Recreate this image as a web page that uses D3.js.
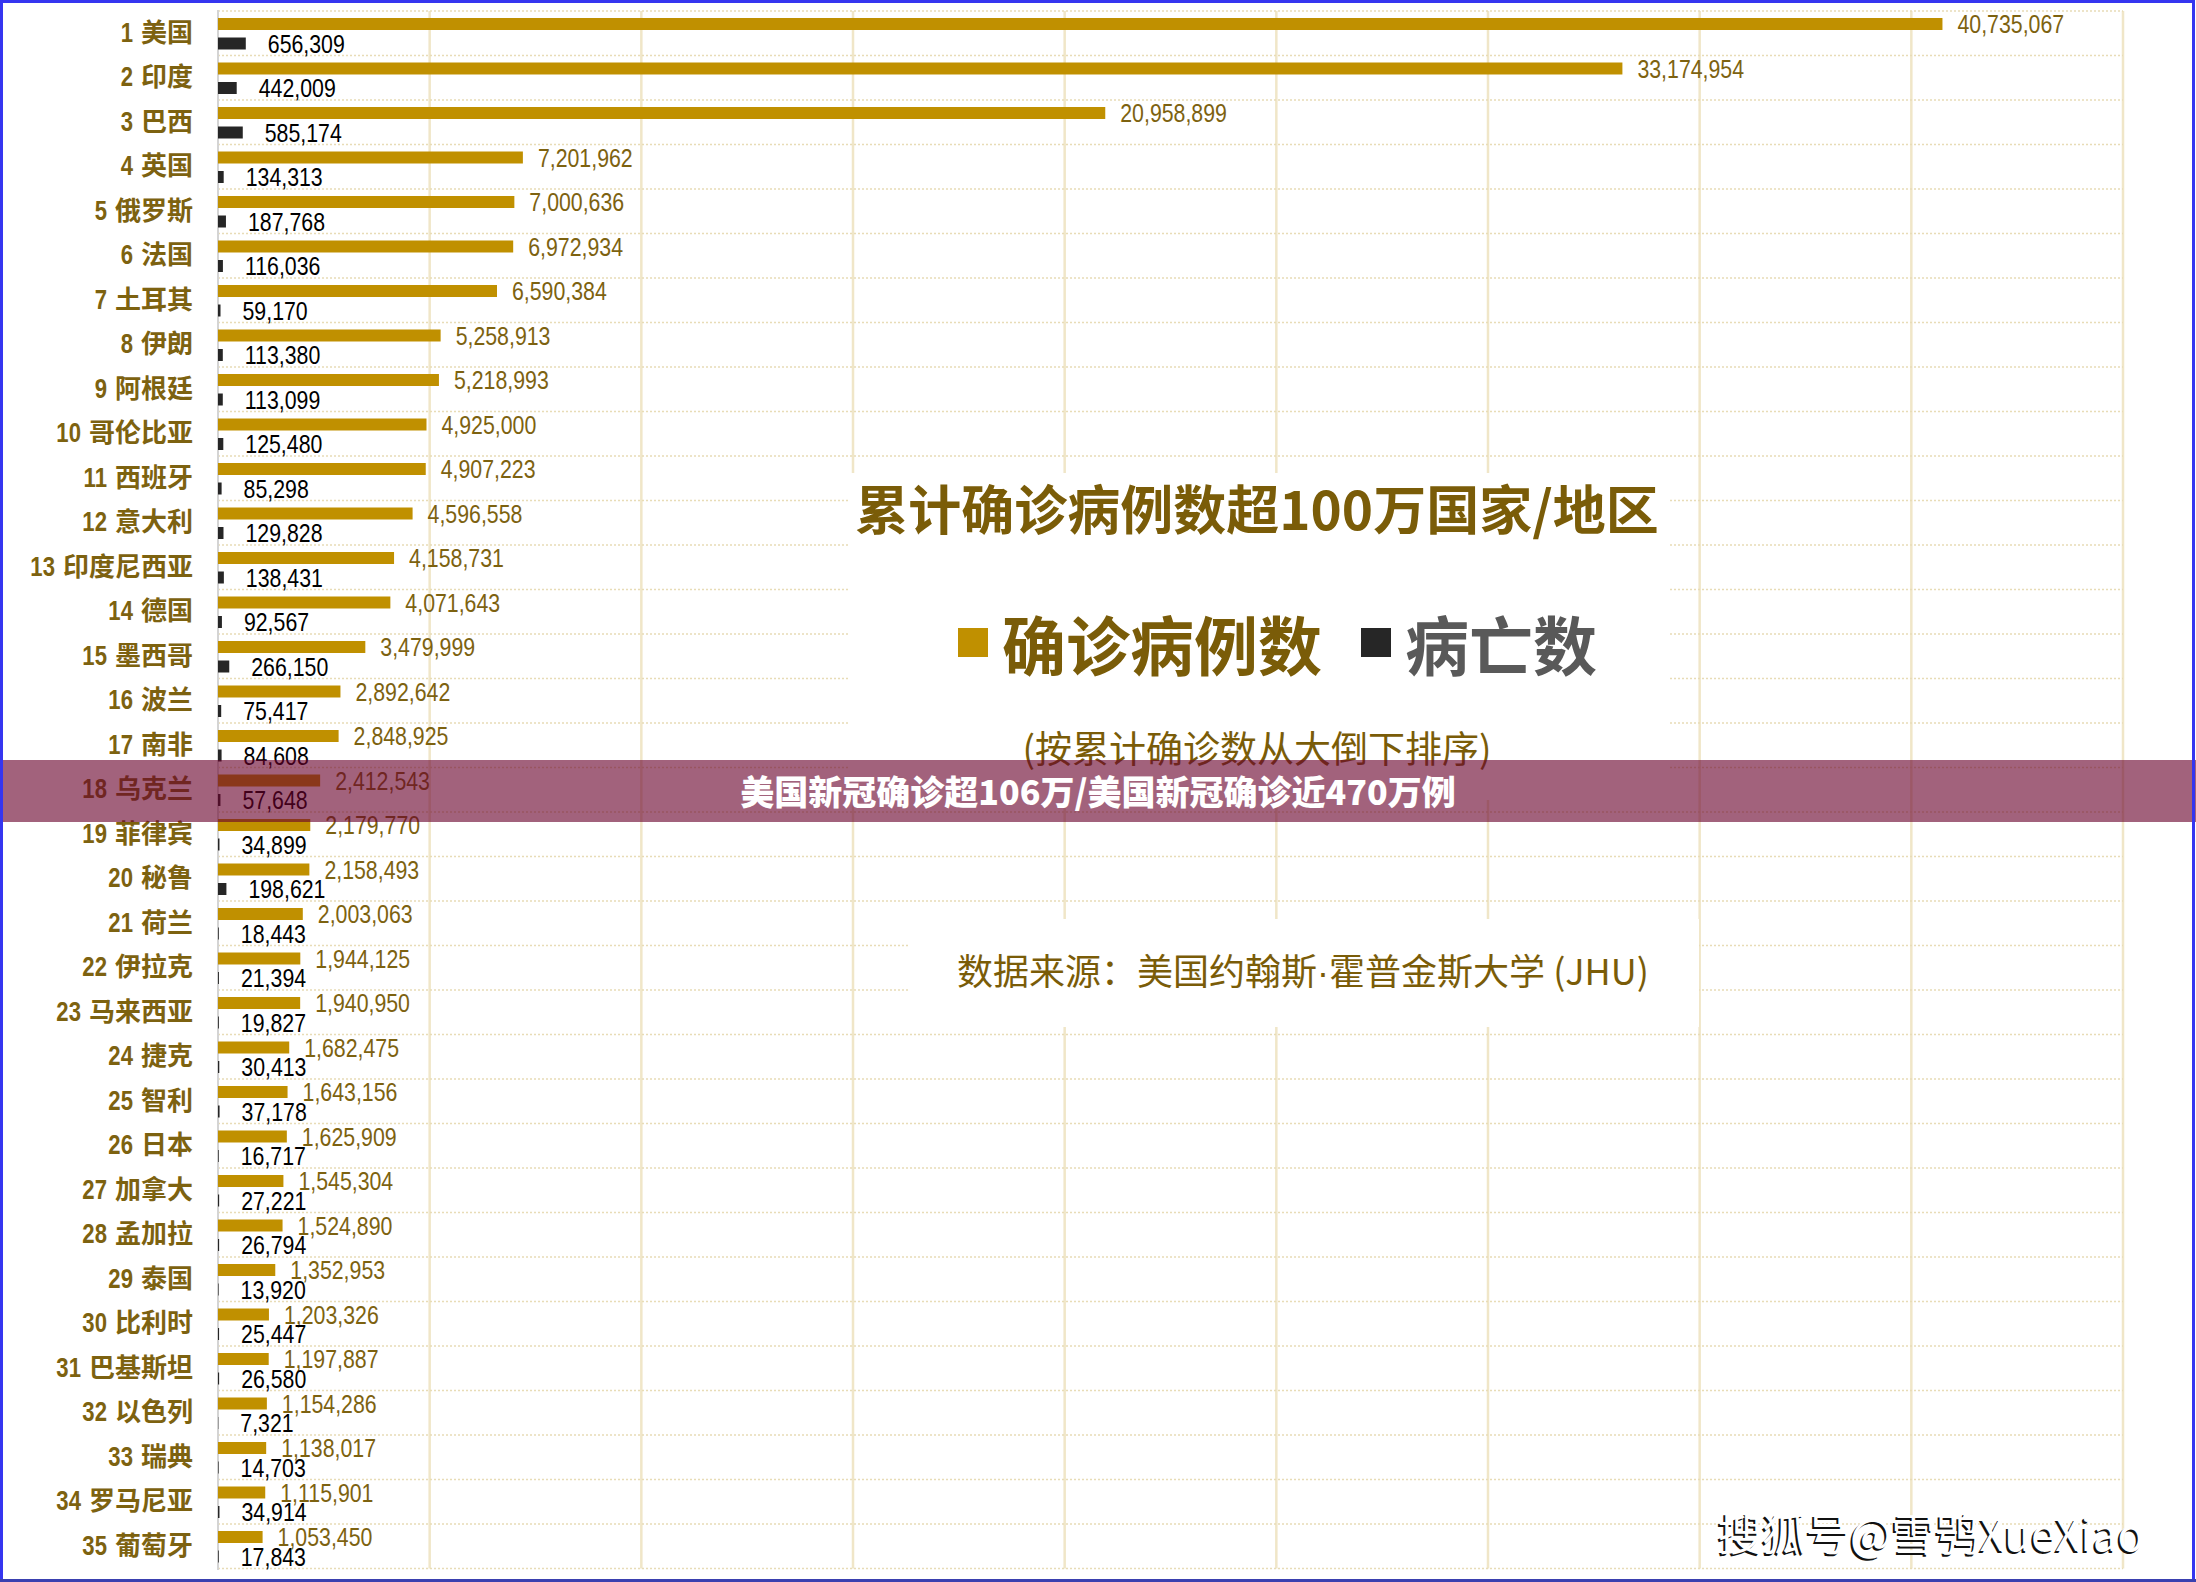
<!DOCTYPE html>
<html lang="zh">
    <head>
        <meta charset="utf-8">
        <title>累计确诊病例数超100万国家/地区</title>
        <script type="text/javascript" src="https://cdn.jsdelivr.net/npm/d3@7/dist/d3.min.js"></script>
        <style type="text/css">
            body { margin: 0; background: #ffffff; }
            svg { display: block; }
        </style>
    </head>

    <body>
        <script type="text/javascript">
            var countries = ["美国", "印度", "巴西", "英国", "俄罗斯", "法国", "土耳其", "伊朗", "阿根廷", "哥伦比亚",
                "西班牙", "意大利", "印度尼西亚", "德国", "墨西哥", "波兰", "南非", "乌克兰", "菲律宾", "秘鲁",
                "荷兰", "伊拉克", "马来西亚", "捷克", "智利", "日本", "加拿大", "孟加拉", "泰国", "比利时",
                "巴基斯坦", "以色列", "瑞典", "罗马尼亚", "葡萄牙"];
            var confirmed = [40735067, 33174954, 20958899, 7201962, 7000636, 6972934, 6590384, 5258913, 5218993, 4925000,
                4907223, 4596558, 4158731, 4071643, 3479999, 2892642, 2848925, 2412543, 2179770, 2158493,
                2003063, 1944125, 1940950, 1682475, 1643156, 1625909, 1545304, 1524890, 1352953, 1203326,
                1197887, 1154286, 1138017, 1115901, 1053450];
            var deaths = [656309, 442009, 585174, 134313, 187768, 116036, 59170, 113380, 113099, 125480,
                85298, 129828, 138431, 92567, 266150, 75417, 84608, 57648, 34899, 198621,
                18443, 21394, 19827, 30413, 37178, 16717, 27221, 26794, 13920, 25447,
                26580, 7321, 14703, 34914, 17843];
            var xTicks = [0, 5000000, 10000000, 15000000, 20000000, 25000000, 30000000, 35000000, 40000000, 45000000];
            var seriesNames = ["确诊病例数", "病亡数"];

            var w = 2196;
            var h = 1582;
            var gold = "#c09000";
            var dark = "#262626";
            var olive = "#7d6210";
            // no Arial Narrow here, so squeeze Liberation Sans horizontally
            var numFont = "'Liberation Sans', Arial, sans-serif";
            var squeeze = 0.82;
            var cjkFont = "'Noto Sans CJK SC', sans-serif";

            var dataset = countries.map(function(c, i) {
                return { rank: i + 1, name: c, confirmed: confirmed[i], deaths: deaths[i] };
            });

            var svg = d3.select("body")
                    .append("svg")
                    .attr("width", w)
                    .attr("height", h);

            // x: cases, rows: one band per country, two bars inside each band
            var xScale = d3.scaleLinear()
                    .domain([0, 45000000])
                    .range([218, 2123]);
            var yScale = d3.scaleBand()
                    .domain(countries)
                    .range([11, 1568.5]);
            var ySub = d3.scaleBand()
                    .domain(["confirmed", "deaths"])
                    .range([7, 38.5])
                    .paddingInner(0.385);

            // vertical grid
            svg.selectAll("line.vgrid")
                .data(xTicks.slice(1))
                .enter()
                .append("line")
                .attr("class", "vgrid")
                .attr("x1", function(d) { return xScale(d); })
                .attr("x2", function(d) { return xScale(d); })
                .attr("y1", 11)
                .attr("y2", 1568.5)
                .attr("stroke", "#f0e6c8")
                .attr("stroke-width", 2.5);

            // dotted row separators
            var rowEdges = countries.map(function(c) { return yScale(c); }).concat([yScale.range()[1]]);
            svg.selectAll("line.hgrid")
                .data(rowEdges)
                .enter()
                .append("line")
                .attr("class", "hgrid")
                .attr("x1", xScale(0))
                .attr("x2", xScale(45000000))
                .attr("y1", function(d) { return d; })
                .attr("y2", function(d) { return d; })
                .attr("stroke", "#e8dcb6")
                .attr("stroke-width", 1.5)
                .attr("stroke-dasharray", "2,2");

            // axis line
            svg.append("line")
                .attr("x1", xScale(0))
                .attr("x2", xScale(0))
                .attr("y1", 10)
                .attr("y2", 1570)
                .attr("stroke", "#d4d4d4")
                .attr("stroke-width", 2);

            // white boxes behind the title block and the source line
            svg.append("rect")
                .attr("x", 849).attr("y", 473)
                .attr("width", 820).attr("height", 327)
                .attr("fill", "#ffffff");
            svg.append("rect")
                .attr("x", 909).attr("y", 919)
                .attr("width", 790).attr("height", 108)
                .attr("fill", "#ffffff");

            var rows = svg.selectAll("g.row")
                .data(dataset)
                .enter()
                .append("g")
                .attr("class", "row")
                .attr("transform", function(d) { return "translate(0," + yScale(d.name) + ")"; });

            rows.append("rect")
                .attr("x", xScale(0))
                .attr("y", ySub("confirmed"))
                .attr("width", function(d) { return xScale(d.confirmed) - xScale(0); })
                .attr("height", ySub.bandwidth())
                .attr("fill", gold);

            rows.append("rect")
                .attr("x", xScale(0))
                .attr("y", ySub("deaths"))
                .attr("width", function(d) { return xScale(d.deaths) - xScale(0); })
                .attr("height", ySub.bandwidth())
                .attr("fill", dark);

            rows.append("text")
                .text(function(d) { return d3.format(",")(d.confirmed); })
                .attr("transform", function(d) {
                    return "translate(" + (xScale(d.confirmed) + 15) + "," + (ySub("confirmed") + ySub.bandwidth() / 2) + ") scale(" + squeeze + ",1)";
                })
                .attr("dy", "0.36em")
                .attr("font-family", numFont)
                .attr("font-size", "26px")
                .attr("fill", olive);

            rows.append("text")
                .text(function(d) { return d3.format(",")(d.deaths); })
                .attr("transform", function(d) {
                    return "translate(" + (xScale(d.deaths) + 22) + "," + (ySub("deaths") + ySub.bandwidth() / 2) + ") scale(" + squeeze + ",1)";
                })
                .attr("dy", "0.36em")
                .attr("font-family", numFont)
                .attr("font-size", "26px")
                .attr("fill", "#000000");

            // category labels: chinese name, then the narrow bold rank number in front of it
            var names = rows.append("text")
                .text(function(d) { return d.name; })
                .attr("x", 193)
                .attr("y", yScale.bandwidth() / 2 - 1)
                .attr("dy", "0.36em")
                .attr("text-anchor", "end")
                .attr("font-family", cjkFont)
                .attr("font-weight", "bold")
                .attr("font-size", "26px")
                .attr("fill", olive);

            rows.append("text")
                .text(function(d) { return d.rank; })
                .attr("transform", function(d, i) {
                    var len = names.nodes()[i].getComputedTextLength();
                    return "translate(" + (193 - len - 8) + "," + (yScale.bandwidth() / 2 - 1) + ") scale(" + squeeze + ",1)";
                })
                .attr("dy", "0.36em")
                .attr("text-anchor", "end")
                .attr("font-family", numFont)
                .attr("font-weight", "bold")
                .attr("font-size", "27px")
                .attr("fill", olive);

            // title block
            svg.append("text")
                .text("累计确诊病例数超100万国家/地区")
                .attr("x", 1257)
                .attr("y", 530)
                .attr("text-anchor", "middle")
                .attr("font-family", cjkFont)
                .attr("font-weight", "bold")
                .attr("font-size", "53px")
                .attr("fill", "#7a5c08");

            var legend = svg.selectAll("g.legend")
                .data(seriesNames)
                .enter()
                .append("g")
                .attr("class", "legend")
                .attr("transform", function(d, i) { return "translate(" + [958, 1361][i] + ",628)"; });
            legend.append("rect")
                .attr("width", 30)
                .attr("height", 29)
                .attr("fill", function(d, i) { return [gold, dark][i]; });
            legend.append("text")
                .text(function(d) { return d; })
                .attr("x", 44)
                .attr("y", 42)
                .attr("font-family", cjkFont)
                .attr("font-weight", "bold")
                .attr("font-size", "64px")
                .attr("fill", function(d, i) { return ["#7a5c08", "#595959"][i]; });

            svg.append("text")
                .text("(按累计确诊数从大倒下排序)")
                .attr("x", 1257)
                .attr("y", 763)
                .attr("text-anchor", "middle")
                .attr("font-family", cjkFont)
                .attr("font-size", "37px")
                .attr("fill", "#7a5c08");

            var source = svg.append("text")
                .attr("x", 1303)
                .attr("y", 985)
                .attr("text-anchor", "middle")
                .attr("font-family", cjkFont)
                .attr("font-size", "36px")
                .attr("fill", "#7a5c08");
            source.append("tspan").text("数据来源：美国约翰斯");
            source.append("tspan").attr("font-family", numFont).text("·");
            source.append("tspan").text("霍普金斯大学 (JHU)");

            // watermark with dark shadow
            [["#111111", -2, 2], ["#ffffff", 0, 0]].forEach(function(s) {
                svg.append("text")
                    .text("搜狐号@雪鸮XueXiao")
                    .attr("x", 1931 + s[1])
                    .attr("y", 1551 + s[2])
                    .attr("text-anchor", "middle")
                    .attr("font-family", cjkFont)
                    .attr("font-size", "44px")
                    .attr("fill", s[0]);
            });

            // headline banner across the picture
            svg.append("rect")
                .attr("x", 0).attr("y", 760)
                .attr("width", w).attr("height", 62)
                .attr("fill", "rgba(105,2,44,0.62)");
            svg.append("text")
                .text("美国新冠确诊超106万/美国新冠确诊近470万例")
                .attr("x", w / 2)
                .attr("y", 805)
                .attr("text-anchor", "middle")
                .attr("font-family", cjkFont)
                .attr("font-weight", "900")
                .attr("font-size", "34px")
                .attr("fill", "#ffffff");

            // frame
            svg.append("path")
                .attr("d", "M1.5,1580 V1.5 H2193.5 V1580")
                .attr("fill", "none")
                .attr("stroke", "#3535f0")
                .attr("stroke-width", 3);
            svg.append("line")
                .attr("x1", 0).attr("x2", w)
                .attr("y1", 1580.5).attr("y2", 1580.5)
                .attr("stroke", "#3a40b0")
                .attr("stroke-width", 3);
        </script>
    </body>
</html>
